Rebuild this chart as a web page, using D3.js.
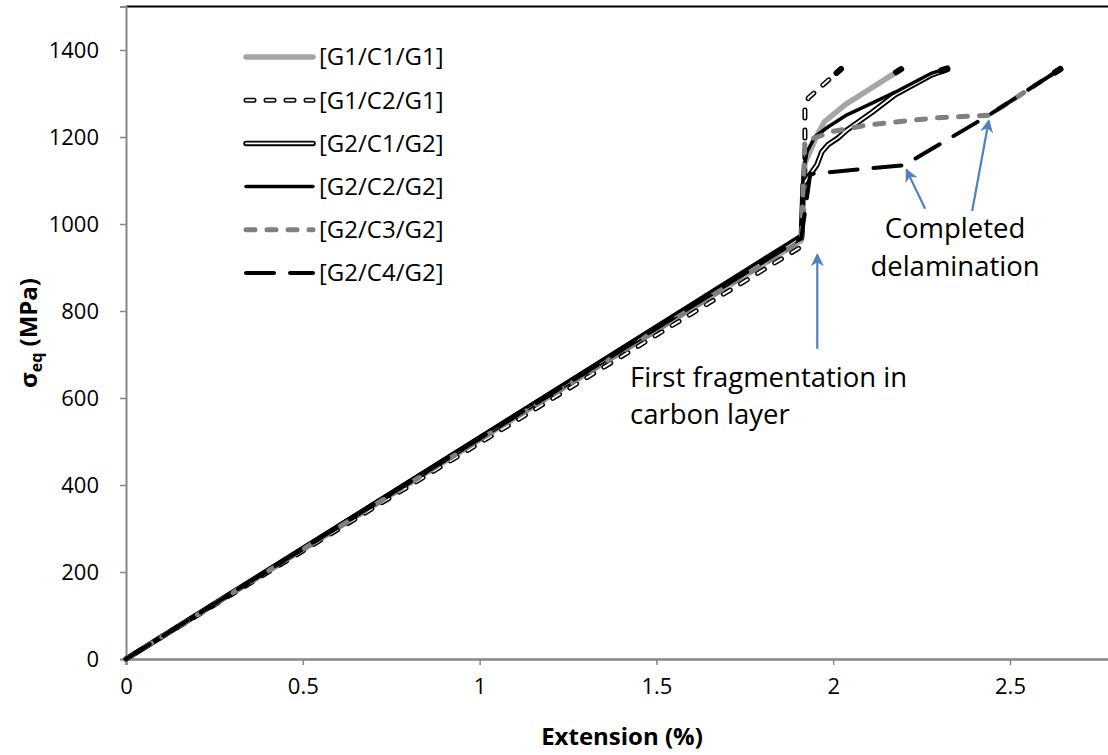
<!DOCTYPE html>
<html>
<head>
<meta charset="utf-8">
<script src="https://cdn.jsdelivr.net/npm/d3@7"></script>
<style>
  html, body { margin: 0; padding: 0; background: #fff; }
  svg { display: block; font-family: "Open Sans", sans-serif; }
</style>
</head>
<body>
<svg id="chart" width="1108" height="755"></svg>
<script>
// Series: extension (%) vs equivalent stress (MPa)
const seriesNames = ["[G1/C1/G1]", "[G1/C2/G1]", "[G2/C1/G2]", "[G2/C2/G2]", "[G2/C3/G2]", "[G2/C4/G2]"];

const extG1C1G1 = [0, 1.91, 1.92, 1.955, 1.975, 2.035, 2.19];
const sigG1C1G1 = [0, 962, 1140, 1205, 1235, 1275, 1355];

const extG1C2G1 = [0, 1.91, 1.92, 1.92, 1.93, 2.02];
const sigG1C2G1 = [0, 948, 1130, 1268, 1290, 1355];

const extG2C1G2 = [0, 1.91, 1.915, 1.934, 1.954, 1.968, 1.985, 2.014, 2.039, 2.067, 2.11, 2.175, 2.279, 2.32];
const sigG2C1G2 = [0, 970, 1090, 1113, 1136, 1166, 1182, 1198, 1216, 1232, 1257, 1297, 1343, 1355];

const extG2C2G2 = [0, 1.91, 1.915, 1.926, 1.948, 1.985, 2.039, 2.11, 2.175, 2.279, 2.32];
const sigG2C2G2 = [0, 975, 1120, 1166, 1200, 1223, 1251, 1278, 1303, 1347, 1357];

const extG2C3G2 = [0, 1.91, 1.92, 2.0, 2.1, 2.29, 2.44, 2.64];
const sigG2C3G2 = [0, 962, 1190, 1213, 1228, 1244, 1250, 1355];

const extG2C4G2 = [0, 1.91, 1.935, 2.2, 2.44, 2.64];
const sigG2C4G2 = [0, 968, 1115, 1135, 1250, 1355];

const xTicks = [0, 0.5, 1, 1.5, 2, 2.5];
const xTickLabels = ["0", "0.5", "1", "1.5", "2", "2.5"];
const yTicks = [0, 200, 400, 600, 800, 1000, 1200, 1400];

const annotFirst = ["First fragmentation in", "carbon layer"];
const annotDelam = ["Completed", "delamination"];

// Line appearance per series: list of stacked strokes
const styles = [
  [{ stroke: "#a6a6a6", width: 5.5 }],
  [{ stroke: "#000", width: 5, dash: "8,12" }, { stroke: "#fff", width: 2, dash: "8,12" }],
  [{ stroke: "#000", width: 5.5 }, { stroke: "#fff", width: 1.8 }],
  [{ stroke: "#000", width: 3.5 }],
  [{ stroke: "#808080", width: 5, dash: "9,12" }],
  [{ stroke: "#000", width: 4, dash: "28,16" }]
];

const exts = [extG1C1G1, extG1C2G1, extG2C1G2, extG2C2G2, extG2C3G2, extG2C4G2];
const sigs = [sigG1C1G1, sigG1C2G1, sigG2C1G2, sigG2C2G2, sigG2C3G2, sigG2C4G2];
const series = seriesNames.map((name, i) => ({
  name,
  style: styles[i],
  points: exts[i].map((e, j) => ({ x: e, y: sigs[i][j] }))
}));

const svg = d3.select("#chart");
const x = d3.scaleLinear().domain([0, 3]).range([126, 126 + 3 * 353.6]);
const y = d3.scaleLinear().domain([0, 1500]).range([659, 6.5]);

const axisColor = "#868686";
const font = "'Open Sans', sans-serif";

// Top frame line
svg.append("line")
  .attr("x1", x(0)).attr("x2", 1108)
  .attr("y1", y(1500)).attr("y2", y(1500))
  .attr("stroke", "#000").attr("stroke-width", 2);

// Y axis
const yAxis = svg.append("g").attr("transform", `translate(${x(0)},0)`)
  .call(d3.axisLeft(y).tickValues(yTicks).tickSize(6).tickPadding(21).tickFormat(d3.format("d")));
yAxis.select(".domain").attr("stroke", axisColor).attr("stroke-width", 2);
yAxis.selectAll(".tick line").attr("stroke", axisColor).attr("stroke-width", 1.5);
yAxis.selectAll(".tick text").attr("font-size", 22).attr("fill", "#000").attr("font-family", font);

// X axis
const xAxis = svg.append("g").attr("transform", `translate(0,${y(0)})`)
  .call(d3.axisBottom(x).tickValues(xTicks).tickSize(6).tickPadding(13)
    .tickFormat((d, i) => xTickLabels[i]));
xAxis.select(".domain").attr("stroke", axisColor).attr("stroke-width", 2.5);
xAxis.selectAll(".tick line").attr("stroke", axisColor).attr("stroke-width", 1.5);
xAxis.selectAll(".tick text").attr("font-size", 22).attr("fill", "#000").attr("font-family", font);

// Curves
const line = d3.line().x(d => x(d.x)).y(d => y(d.y));
const plot = svg.append("g");
series.forEach(s => {
  const g = plot.append("g");
  s.style.forEach(st => {
    g.append("path")
      .datum(s.points)
      .attr("d", line)
      .attr("fill", "none")
      .attr("stroke", st.stroke)
      .attr("stroke-width", st.width)
      .attr("stroke-linecap", "round")
      .attr("stroke-linejoin", "round")
      .attr("stroke-dasharray", st.dash || null);
  });
});

// Dark end marker on the final point of each curve
series.forEach(s => {
  const n = s.points.length;
  const p1 = s.points[n - 1], p0 = s.points[n - 2];
  const x1 = x(p1.x), y1 = y(p1.y), x0 = x(p0.x), y0 = y(p0.y);
  const len = Math.hypot(x1 - x0, y1 - y0);
  const ux = (x1 - x0) / len, uy = (y1 - y0) / len;
  svg.append("line")
    .attr("x1", x1 - ux * 5).attr("y1", y1 - uy * 5)
    .attr("x2", x1 + ux * 1).attr("y2", y1 + uy * 1)
    .attr("stroke", "#000").attr("stroke-width", 6).attr("stroke-linecap", "round");
});

// Legend
const legend = svg.append("g");
series.forEach((s, i) => {
  const ly = 57 + i * 43.2;
  const g = legend.append("g");
  s.style.forEach(st => {
    g.append("line")
      .attr("x1", 246).attr("x2", 313).attr("y1", ly).attr("y2", ly)
      .attr("stroke", st.stroke).attr("stroke-width", st.width)
      .attr("stroke-linecap", "round")
      .attr("stroke-dasharray", st.dash || null);
  });
  g.append("text")
    .attr("x", 319).attr("y", ly).attr("dy", "0.35em")
    .attr("font-size", 24).attr("fill", "#000")
    .text(s.name);
});

// Annotations
const blue = "#4f81bd";
svg.append("defs").append("marker")
  .attr("id", "arrowhead").attr("viewBox", "0 0 10 10")
  .attr("refX", 9).attr("refY", 5)
  .attr("markerWidth", 6).attr("markerHeight", 6)
  .attr("markerUnits", "strokeWidth")
  .attr("orient", "auto")
  .append("path").attr("d", "M0,0 L10,5 L0,10 L3,5 Z").attr("fill", blue);

function arrow(fx, fy, tx, ty) {
  svg.append("line")
    .attr("x1", x(fx)).attr("y1", y(fy)).attr("x2", x(tx)).attr("y2", y(ty))
    .attr("stroke", blue).attr("stroke-width", 2.2)
    .attr("marker-end", "url(#arrowhead)");
}
arrow(1.955, 713, 1.955, 930);
arrow(2.26, 1035, 2.207, 1125);
arrow(2.393, 1030, 2.44, 1238);

svg.append("text").attr("x", 630).attr("y", 387).attr("font-size", 27.5).attr("fill", "#000").text(annotFirst[0]);
svg.append("text").attr("x", 630).attr("y", 424).attr("font-size", 27.5).attr("fill", "#000").text(annotFirst[1]);
svg.append("text").attr("x", 955).attr("y", 238).attr("font-size", 27.5).attr("text-anchor", "middle").attr("fill", "#000").text(annotDelam[0]);
svg.append("text").attr("x", 955).attr("y", 276).attr("font-size", 27.5).attr("text-anchor", "middle").attr("fill", "#000").text(annotDelam[1]);

// Axis titles
svg.append("text")
  .attr("x", 622).attr("y", 745).attr("text-anchor", "middle")
  .attr("font-size", 24).attr("font-weight", "bold").attr("fill", "#000")
  .text("Extension (%)");

const yt = svg.append("text")
  .attr("transform", "translate(37,333) rotate(-90)")
  .attr("text-anchor", "middle")
  .attr("font-size", 24).attr("font-weight", "bold").attr("fill", "#000");
yt.append("tspan").text("σ");
yt.append("tspan").attr("font-size", 16).attr("dy", 5).text("eq");
yt.append("tspan").attr("dy", -5).text(" (MPa)");
</script>
</body>
</html>
